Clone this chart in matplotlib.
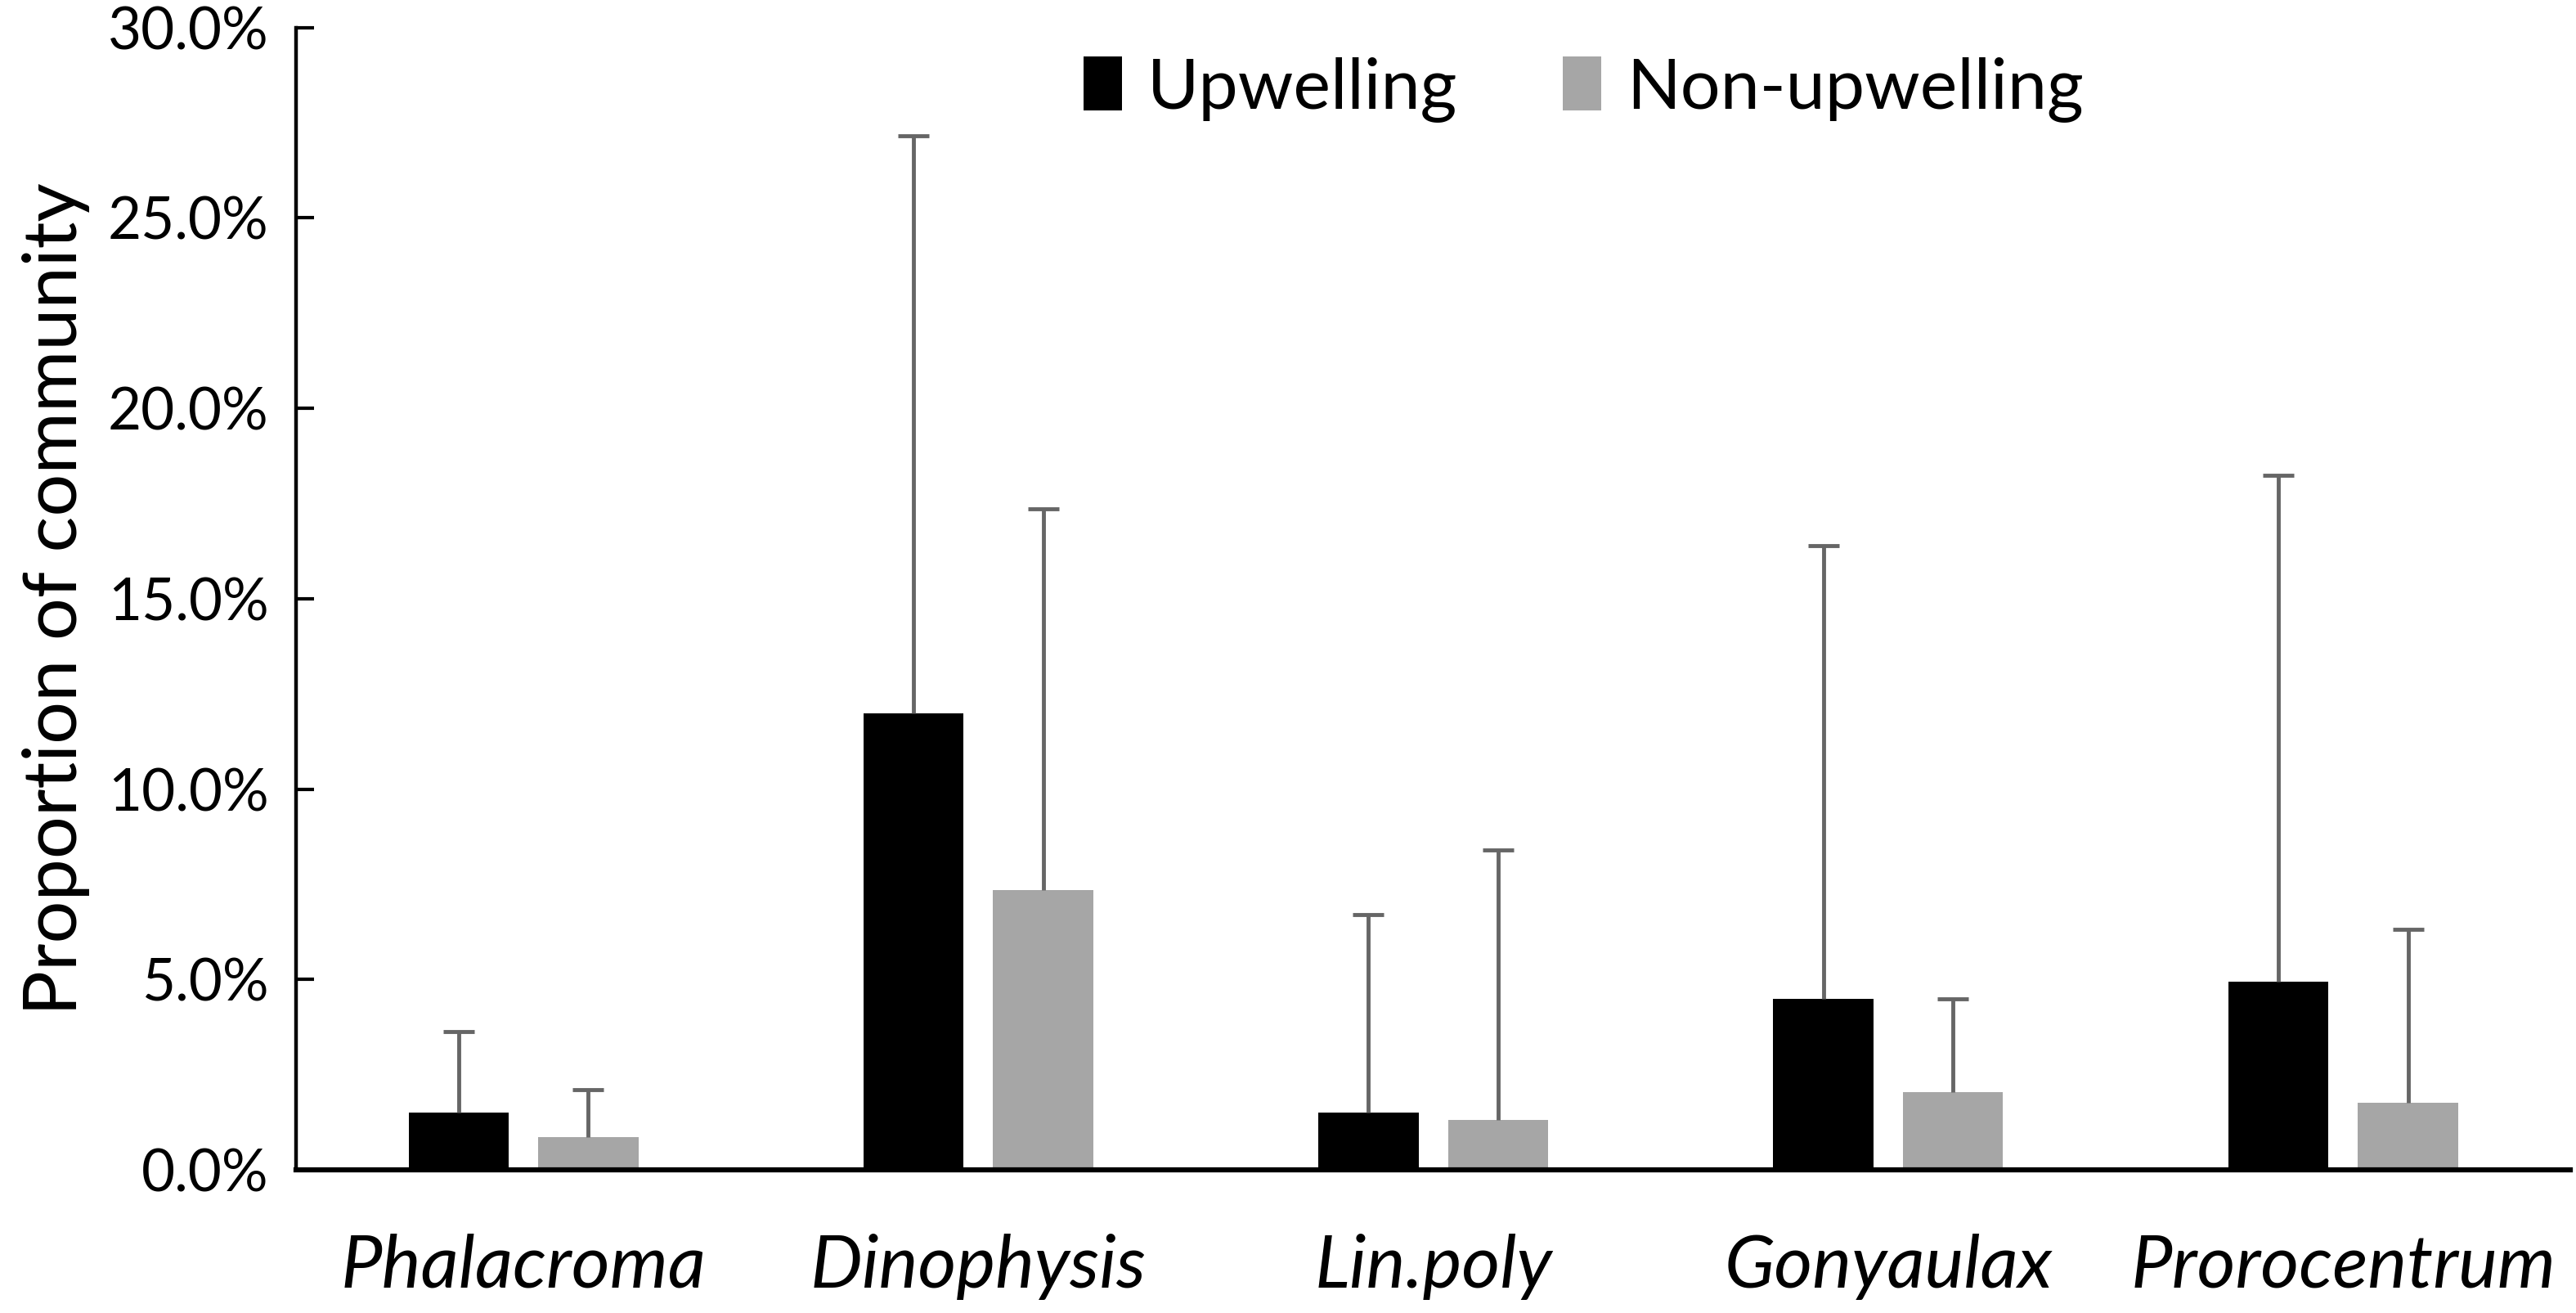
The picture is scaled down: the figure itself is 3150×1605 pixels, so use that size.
import matplotlib.pyplot as plt
import numpy as np
from matplotlib.ticker import PercentFormatter

plt.rcParams['font.family'] = ['Lato', 'DejaVu Sans']

genera = ['Phalacroma', 'Dinophysis', 'Lin.poly', 'Gonyaulax', 'Prorocentrum']
upwelling = [1.5, 12.0, 1.5, 4.5, 4.95]
upwelling_err = [2.13, 15.15, 5.2, 11.9, 13.3]
non_upwelling = [0.85, 7.35, 1.32, 2.05, 1.77]
non_upwelling_err = [1.25, 10.0, 7.08, 2.45, 4.55]

x = np.arange(len(genera))
bar_width = 0.22
offset = 0.1425

fig = plt.figure(figsize=(31.5, 16.05), dpi=100)
ax = fig.add_axes([0.1149, 0.109, 0.883, 0.87])

err_kw = dict(ecolor='#666666', elinewidth=3.5, capsize=14, capthick=3.5)
b1 = ax.bar(x - offset, upwelling, width=bar_width, color='black',
            yerr=[np.zeros(len(x)), upwelling_err], error_kw=err_kw, label='Upwelling')
b2 = ax.bar(x + offset, non_upwelling, width=bar_width, color='#a6a6a6',
            yerr=[np.zeros(len(x)), non_upwelling_err], error_kw=err_kw, label='Non-upwelling')
# only the upper cap is shown
for b in (b1, b2):
    b.errorbar.lines[1][0].set_visible(False)

ax.set_xlim(-0.5, len(genera) - 0.5)
ax.set_ylim(0, 30)
ax.set_yticks(np.arange(0, 31, 5))
ax.yaxis.set_major_formatter(PercentFormatter(decimals=1))
ax.tick_params(axis='y', direction='in', length=16, width=3, labelsize=51, pad=24)
ax.tick_params(axis='x', length=0, labelsize=65, pad=56)
ax.set_xticks(x)
ax.set_xticklabels(genera, style='italic')

ax.set_ylabel('Proportion of community', fontsize=66, labelpad=16)

for s in ['top', 'right']:
    ax.spines[s].set_visible(False)
ax.spines['left'].set_linewidth(3.2)
ax.spines['bottom'].set_linewidth(4.5)

ax.legend(loc='upper center', bbox_to_anchor=(0.566, 1.03), ncol=2, frameon=False,
          fontsize=62, handlelength=0.55, handleheight=0.8, handletextpad=0.35,
          columnspacing=1.5)

fig.savefig('out.png', dpi=100)
